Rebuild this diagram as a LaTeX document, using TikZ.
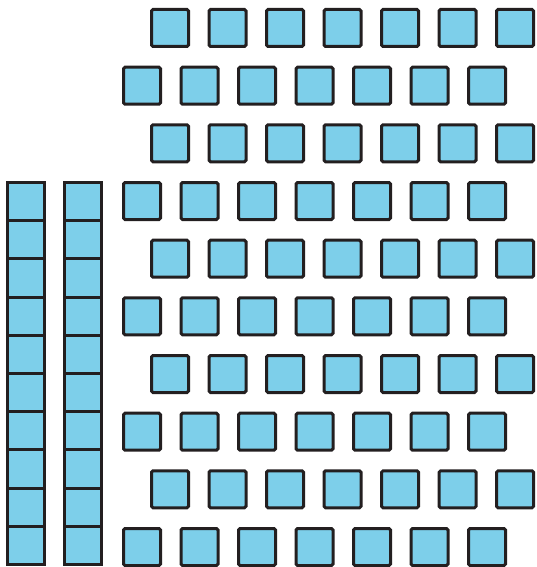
\documentclass[tikz,border=0pt]{standalone}
\definecolor{tile}{HTML}{7DCFEA}
\definecolor{edge}{HTML}{231F20}
\begin{document}
\begin{tikzpicture}[x=1pt,y=-1pt,
  unit/.style={draw=edge,fill=tile,line width=3pt,rounded corners=1.5pt,inner sep=0pt,outer sep=0pt,minimum width=37pt,minimum height=37pt},
  cell/.style={draw=edge,fill=tile,line width=3pt,inner sep=0pt,outer sep=0pt,minimum width=37pt,minimum height=38.2pt}]
\useasboundingbox (0,0) rectangle (536,567);
% loose unit squares
\foreach \r in {0,...,9}{
  \pgfmathsetmacro{\ytop}{8+\r*57.67}
  \pgfmathsetmacro{\xs}{ifthenelse(mod(\r,2)==0,150,122)}
  \foreach \c in {0,...,6}{
    \node[unit] (u-\r-\c) at ({\xs+\c*57.5+20},{\ytop+20}) {};
  }
}
% two rods of ten
\foreach \k in {0,...,9}{
  \node[cell] (a-\k) at (26,{182.5+38.2*(\k+0.5)}) {};
  \node[cell] (b-\k) at (83,{182.5+38.2*(\k+0.5)}) {};
}
\end{tikzpicture}
\end{document}
